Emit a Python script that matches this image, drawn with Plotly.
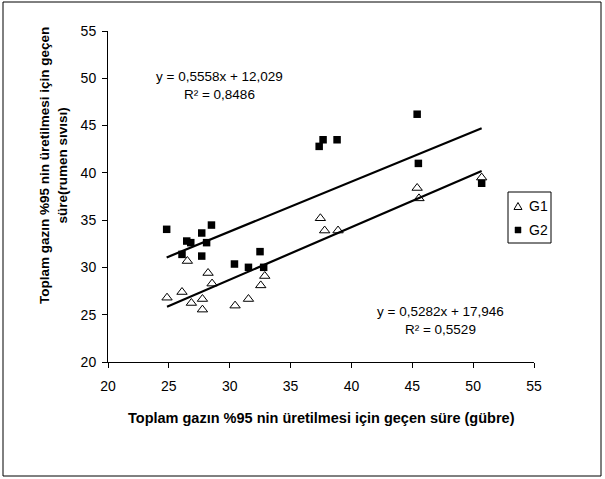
import plotly.graph_objects as go

# ---- data ----
g1_x = [24.85, 26.08, 26.52, 26.85, 27.76, 27.76, 28.22, 28.55, 30.44, 31.54, 32.55, 32.88,
        37.45, 37.8, 38.9, 45.4, 45.55, 50.7]
g1_y = [26.8, 27.4, 30.68, 26.24, 26.66, 25.54, 29.41, 28.29, 25.96, 26.66, 28.1, 29.09,
        35.2, 33.9, 33.9, 38.4, 37.3, 39.5]
g2_x = [24.82, 26.08, 26.47, 26.8, 27.7, 28.5, 28.1, 27.7, 30.39, 31.54, 32.49, 32.79,
        37.35, 37.67, 38.82, 45.4, 45.5, 50.7]
g2_y = [34.03, 31.38, 32.79, 32.62, 33.64, 34.48, 32.62, 31.2, 30.36, 30.01, 31.67, 30.01,
        42.8, 43.5, 43.5, 46.2, 41.0, 38.9]

# trend lines (slope, intercept) as shown in the chart
fit_a = (0.5558, 12.029)   # lower line
fit_b = (0.5282, 17.946)   # upper line
eq_a = ["y = 0,5558x + 12,029", "R² = 0,8486"]
eq_b = ["y = 0,5282x + 17,946", "R² = 0,5529"]

series_names = ["G1", "G2"]
x_ticks = [20, 25, 30, 35, 40, 45, 50, 55]
y_ticks = [20, 25, 30, 35, 40, 45, 50, 55]
x_title = "Toplam gazın %95 nin üretilmesi için geçen süre (gübre)"
y_title_lines = ["Toplam gazın %95 nin üretilmesi için geçen", "süre(rumen sıvısı)"]

FONT = "Liberation Sans, Arial, sans-serif"

W, H = 605, 479
ML, MR, MT, MB = 108, 71, 31, 117
PW, PH = W - ML - MR, H - MT - MB


def px_x(px):
    return (px - ML) / PW


def px_y(py):
    return (H - MB - py) / PH


fig = go.Figure()

# trend lines over the data range
xa0, xa1 = min(g1_x), max(g1_x)
xb0, xb1 = min(g2_x), max(g2_x)
fig.add_trace(go.Scatter(x=[xa0, xa1], y=[fit_a[0] * xa0 + fit_a[1], fit_a[0] * xa1 + fit_a[1]],
                         mode="lines", line=dict(color="black", width=2.2), showlegend=False,
                         hoverinfo="skip"))
fig.add_trace(go.Scatter(x=[xb0, xb1], y=[fit_b[0] * xb0 + fit_b[1], fit_b[0] * xb1 + fit_b[1]],
                         mode="lines", line=dict(color="black", width=2.2), showlegend=False,
                         hoverinfo="skip"))

fig.add_trace(go.Scatter(x=g1_x, y=g1_y, mode="markers", name=series_names[0], showlegend=False,
                         marker=dict(symbol="triangle-up-open", size=9, color="black",
                                     line=dict(width=1, color="black"))))
fig.add_trace(go.Scatter(x=g2_x, y=g2_y, mode="markers", name=series_names[1], showlegend=False,
                         marker=dict(symbol="square", size=7.5, color="black")))

axis_common = dict(showgrid=False, zeroline=False, showline=True, linecolor="black", linewidth=1,
                   ticks="outside", ticklen=5, tickcolor="black", tickwidth=1,
                   tickfont=dict(family=FONT, size=14, color="black"), fixedrange=True)

fig.update_xaxes(range=[20, 55], tickvals=x_ticks, ticktext=[str(v) for v in x_ticks],
                 ticklabelstandoff=6, **axis_common)
fig.update_yaxes(range=[20, 55], tickvals=y_ticks, ticktext=[str(v) for v in y_ticks],
                 ticklabelstandoff=3, **axis_common)

annotations = [
    dict(text="<b>" + x_title + "</b>", x=0.5, y=px_y(418), xref="paper", yref="paper",
         showarrow=False, font=dict(family=FONT, size=14.5, color="black"),
         xanchor="center", yanchor="middle"),
    dict(text="<br>".join("<b>" + s + "</b>" for s in y_title_lines),
         x=px_x(53), y=px_y(166), xref="paper", yref="paper", align="center",
         showarrow=False, textangle=-90, font=dict(family=FONT, size=13.5, color="black"),
         xanchor="center", yanchor="middle"),
    dict(text=eq_a[0] + "<br>" + eq_a[1], x=px_x(219), y=px_y(86), align="center",
         xref="paper", yref="paper", showarrow=False,
         font=dict(family=FONT, size=13.5, color="black"), xanchor="center", yanchor="middle"),
    dict(text=eq_b[0] + "<br>" + eq_b[1], x=px_x(440), y=px_y(320), align="center",
         xref="paper", yref="paper", showarrow=False,
         font=dict(family=FONT, size=13.5, color="black"), xanchor="center", yanchor="middle"),
    # legend labels
    dict(text=series_names[0], x=px_x(527), y=px_y(206), xref="paper", yref="paper",
         showarrow=False, font=dict(family=FONT, size=14, color="black"),
         xanchor="left", yanchor="middle"),
    dict(text=series_names[1], x=px_x(527), y=px_y(230), xref="paper", yref="paper",
         showarrow=False, font=dict(family=FONT, size=14, color="black"),
         xanchor="left", yanchor="middle"),
]

# legend key triangle path (paper coords)
tri = "M {:.5f} {:.5f} L {:.5f} {:.5f} L {:.5f} {:.5f} Z".format(
    px_x(514), px_y(209.5), px_x(522), px_y(209.5), px_x(518), px_y(202.5))

shapes = [
    dict(type="rect", xref="paper", yref="paper",
         x0=px_x(3), x1=px_x(601), y0=px_y(476), y1=px_y(2),
         line=dict(color="black", width=1), fillcolor="rgba(0,0,0,0)", layer="below"),
    # legend box
    dict(type="rect", xref="paper", yref="paper",
         x0=px_x(508), x1=px_x(551), y0=px_y(243), y1=px_y(192),
         line=dict(color="black", width=1), fillcolor="white", layer="above"),
    dict(type="path", xref="paper", yref="paper", path=tri,
         line=dict(color="black", width=1), fillcolor="white", layer="above"),
    dict(type="rect", xref="paper", yref="paper",
         x0=px_x(515), x1=px_x(521), y0=px_y(233), y1=px_y(227),
         line=dict(color="black", width=0.5), fillcolor="black", layer="above"),
]

fig.update_layout(
    width=W, height=H, margin=dict(l=ML, r=MR, t=MT, b=MB, autoexpand=False),
    paper_bgcolor="white", plot_bgcolor="white",
    font=dict(family=FONT, size=14, color="black"),
    annotations=annotations, shapes=shapes, showlegend=False,
)

fig.write_html("out.html")
